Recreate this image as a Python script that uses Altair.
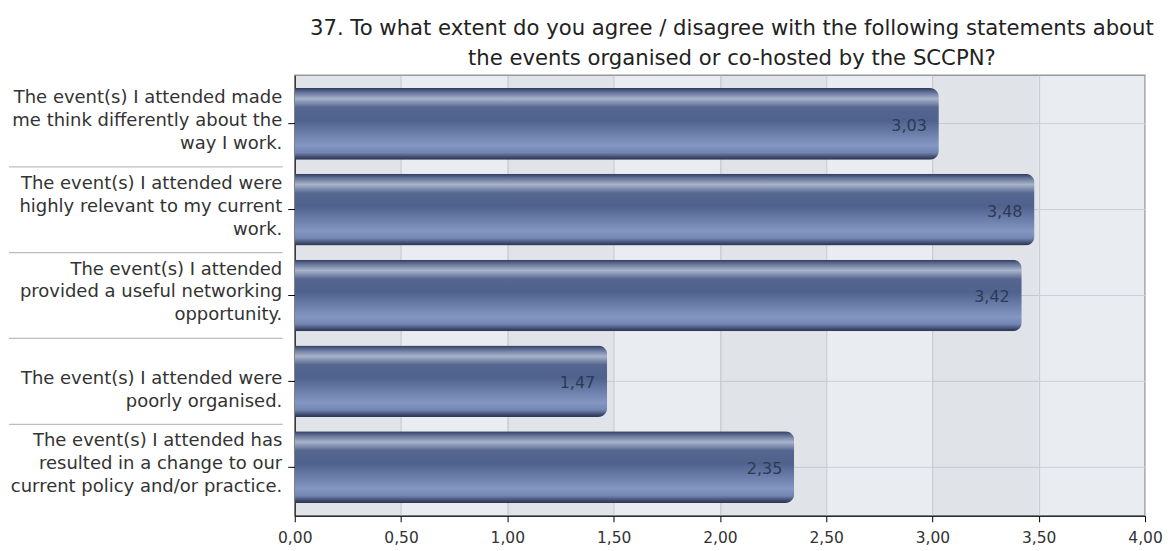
import altair as alt
import pandas as pd

categories = [
    "The event(s) I attended made\nme think differently about the\nway I work.",
    "The event(s) I attended were\nhighly relevant to my current\nwork.",
    "The event(s) I attended\nprovided a useful networking\nopportunity.",
    "The event(s) I attended were\npoorly organised.",
    "The event(s) I attended has\nresulted in a change to our\ncurrent policy and/or practice.",
]
values = [3.03, 3.48, 3.42, 1.47, 2.35]
x_ticks = [0, 0.5, 1.0, 1.5, 2.0, 2.5, 3.0, 3.5, 4.0]
band_starts = [0.0, 1.0, 2.0, 3.0]
title_lines = [
    "37. To what extent do you agree / disagree with the following statements about",
    "the events organised or co-hosted by the SCCPN?",
]

FONT = "DejaVu Sans"

df = pd.DataFrame({"cat": categories, "val": values})
bands = pd.DataFrame({"val": band_starts, "x1": [b + 0.5 for b in band_starts]})
seps = pd.DataFrame({"cat": categories[1:]})

xscale = alt.Scale(domain=[0, 4], nice=False, zero=True)
yscale = alt.Scale(domain=categories, paddingInner=0.165, paddingOuter=0.15)

x_axis = alt.Axis(
    values=x_ticks,
    title=None,
    labelExpr="replace(format(datum.value, '.2f'), '.', ',')",
    labelFont=FONT,
    labelFontSize=15.5,
    labelColor="#333333",
    labelPadding=9,
    tickSize=6,
    tickColor="#000000",
    domainColor="#000000",
    grid=True,
    gridColor="#c6cad0",
    labelFlush=False,
)
y_axis = alt.Axis(
    title=None,
    labelExpr="split(datum.label, '\\n')",
    labelFont=FONT,
    labelFontSize=18,
    labelLineHeight=23,
    labelBaseline="middle",
    labelOffset={
        "condition": {"test": "length(split(datum.label, '\\n')) == 2", "value": -2},
        "value": -26,
    },
    labelColor="#333333",
    labelAlign="right",
    labelPadding=6,
    labelLimit=400,
    tickSize=7,
    tickColor="#000000",
    domainColor="#111111",
    grid=True,
    gridColor="#ccd0d6",
)

band_layer = alt.Chart(bands).mark_rect(color="#000000", opacity=0.035).encode(
    x=alt.X("val:Q", scale=xscale, axis=x_axis),
    x2="x1:Q",
)

grad = alt.Gradient(
    gradient="linear",
    x1=0, y1=0, x2=0, y2=1,
    stops=[
        alt.GradientStop(offset=0.0, color="#2f3b5c"),
        alt.GradientStop(offset=0.05, color="#5a6a90"),
        alt.GradientStop(offset=0.15, color="#a9b4cc"),
        alt.GradientStop(offset=0.27, color="#55668f"),
        alt.GradientStop(offset=0.45, color="#4f628d"),
        alt.GradientStop(offset=0.8, color="#8496c2"),
        alt.GradientStop(offset=0.9, color="#7385b2"),
        alt.GradientStop(offset=0.97, color="#3a4769"),
        alt.GradientStop(offset=1.0, color="#2b3552"),
    ],
)

bars = alt.Chart(df).mark_bar(color=grad, cornerRadiusEnd=9).encode(
    x=alt.X("val:Q", scale=xscale, axis=x_axis),
    y=alt.Y("cat:N", scale=yscale, sort=None, axis=y_axis),
)

texts = alt.Chart(df).transform_calculate(
    lbl="replace(format(datum.val, '.2f'), '.', ',')"
).mark_text(
    align="right", baseline="middle", dx=-12, dy=2,
    font=FONT, fontSize=16, color="#2e3956",
).encode(
    x=alt.X("val:Q", scale=xscale, axis=x_axis),
    y=alt.Y("cat:N", scale=yscale, sort=None, axis=y_axis),
    text="lbl:N",
)

sep_layer = alt.Chart(seps).mark_rule(color="#bdbdbd", strokeWidth=1.2, yOffset=-7).encode(
    y=alt.Y("cat:N", scale=yscale, sort=None, bandPosition=0, axis=y_axis),
    x=alt.value(-286),
    x2=alt.value(-12),
)

chart = alt.layer(band_layer, bars, texts, sep_layer).properties(
    width=851,
    height=441,
    padding={"left": 0, "top": 9, "right": 0, "bottom": 0},
    background="#ffffff",
    title=alt.TitleParams(
        text=title_lines,
        font=FONT,
        fontSize=21.2,
        fontWeight="normal",
        color="#222222",
        lineHeight=30,
        anchor="middle",
        dx=12,
        offset=6,
    ),
).configure_view(
    fill="#e9ecf0",
    stroke="#9a9a9a",
    strokeWidth=1.5,
)

chart.save("out.html", embed_options={"renderer": "svg", "actions": False})
